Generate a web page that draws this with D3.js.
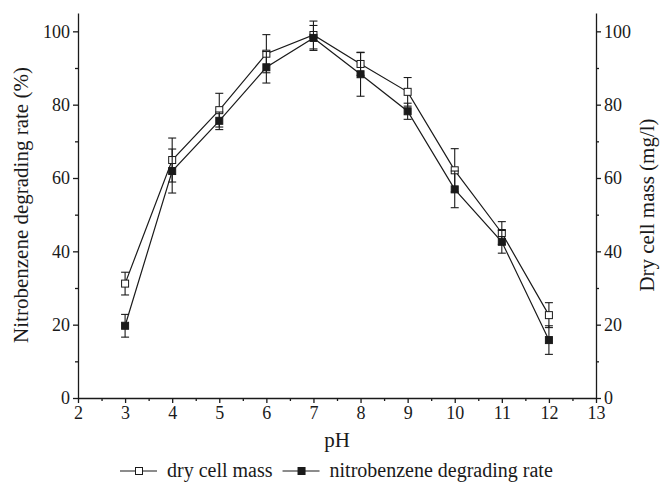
<!DOCTYPE html>
<html>
<head>
<meta charset="utf-8">
<script src="https://cdn.jsdelivr.net/npm/d3@7"></script>
<style>
  body { margin: 0; background: #fff; }
  svg text { font-family: "Liberation Serif", "Times New Roman", serif; }
</style>
</head>
<body>
<div id="chart"></div>
<script>
// pH values on x
const phValues = [3, 4, 5, 6, 7, 8, 9, 10, 11, 12];
// dry cell mass (mg/l), open squares, right axis
const dryMass = [31.2, 64.9, 78.5, 93.9, 99.0, 91.1, 83.5, 62.1, 45.0, 22.6];
const dryMassErr = [3.1, 6.0, 4.6, 5.2, 3.8, 3.1, 3.9, 5.9, 3.1, 3.4];
// nitrobenzene degrading rate (%), filled squares, left axis
const degRate = [19.7, 61.9, 75.6, 90.2, 98.2, 88.3, 78.2, 56.9, 42.6, 15.8];
const degRateErr = [3.1, 6.0, 2.4, 4.3, 3.4, 6.0, 2.2, 5.0, 3.1, 3.9];

const xTicks = d3.range(2, 14);
const yTicks = [0, 20, 40, 60, 80, 100];

const width = 662, height = 482;
const margin = {left: 78, right: 66, top: 13, bottom: 84};

const svg = d3.select("#chart").append("svg")
  .attr("width", width).attr("height", height);

const x = d3.scaleLinear().domain([2, 13]).range([margin.left, width - margin.right]);
const yLeft = d3.scaleLinear().domain([0, 105]).range([height - margin.bottom, margin.top]);
const yRight = d3.scaleLinear().domain([0, 105]).range([height - margin.bottom, margin.top]);

const ink = "#1a1a1a";
const serif = "'Liberation Serif', 'Times New Roman', serif";
const bottom = height - margin.bottom;

// axes
function styleAxis(g) {
  g.attr("font-family", serif);
  g.selectAll("path, line").attr("stroke", ink).attr("stroke-width", 1.3);
  g.selectAll("text").attr("fill", ink).style("font-size", "18px").style("font-family", serif);
}

// minor ticks first
svg.append("g").attr("transform", `translate(0,${bottom})`)
  .call(d3.axisBottom(x).tickValues(d3.range(2.5, 13, 1)).tickSize(3).tickFormat(""))
  .call(g => g.select(".domain").remove()).call(styleAxis);
svg.append("g").attr("transform", `translate(${margin.left},0)`)
  .call(d3.axisLeft(yLeft).tickValues(d3.range(10, 105, 20)).tickSize(3).tickFormat(""))
  .call(g => g.select(".domain").remove()).call(styleAxis);
svg.append("g").attr("transform", `translate(${width - margin.right},0)`)
  .call(d3.axisRight(yRight).tickValues(d3.range(10, 105, 20)).tickSize(3).tickFormat(""))
  .call(g => g.select(".domain").remove()).call(styleAxis);

svg.append("g").attr("transform", `translate(0,${bottom})`)
  .call(d3.axisBottom(x).tickValues(xTicks).tickSize(5).tickSizeOuter(0).tickPadding(3))
  .call(styleAxis);
svg.append("g").attr("transform", `translate(${margin.left},0)`)
  .call(d3.axisLeft(yLeft).tickValues(yTicks).tickSize(5).tickSizeOuter(0).tickPadding(3))
  .call(styleAxis);
svg.append("g").attr("transform", `translate(${width - margin.right},0)`)
  .call(d3.axisRight(yRight).tickValues(yTicks).tickSize(5).tickSizeOuter(0).tickPadding(3))
  .call(styleAxis);

// axis titles
const title = sel => sel.style("font-size", "21px").style("font-family", serif).attr("fill", ink);
svg.append("text").attr("x", (x(2) + x(13)) / 2).attr("y", 447)
  .attr("text-anchor", "middle").call(title).text("pH");
svg.append("text")
  .attr("transform", "translate(28,205) rotate(-90)")
  .attr("text-anchor", "middle").call(title)
  .text("Nitrobenzene degrading rate (%)");
svg.append("text")
  .attr("transform", "translate(654,205) rotate(-90)")
  .attr("text-anchor", "middle").call(title)
  .text("Dry cell mass (mg/l)");

const series = [
  {name: "dry cell mass", vals: dryMass, err: dryMassErr, y: yRight, fill: "#fff"},
  {name: "nitrobenzene degrading rate", vals: degRate, err: degRateErr, y: yLeft, fill: ink}
];

const cap = 4, half = 3.5;
series.forEach(s => {
  const g = svg.append("g");
  const pts = phValues.map((p, i) => ({p, v: s.vals[i], e: s.err[i]}));
  // error bars
  g.selectAll("line.eb").data(pts).join("line")
    .attr("x1", d => x(d.p)).attr("x2", d => x(d.p))
    .attr("y1", d => s.y(d.v - d.e)).attr("y2", d => s.y(d.v + d.e))
    .attr("stroke", ink).attr("stroke-width", 1.1);
  [-1, 1].forEach(sign => {
    g.selectAll(null).data(pts).join("line")
      .attr("x1", d => x(d.p) - cap).attr("x2", d => x(d.p) + cap)
      .attr("y1", d => s.y(d.v + sign * d.e)).attr("y2", d => s.y(d.v + sign * d.e))
      .attr("stroke", ink).attr("stroke-width", 1.1);
  });
  s.g = g; s.pts = pts;
});

series.forEach(s => {
  s.g.append("path").datum(s.pts)
    .attr("d", d3.line().x(d => x(d.p)).y(d => s.y(d.v)))
    .attr("fill", "none").attr("stroke", ink).attr("stroke-width", 1.2);
});
series.forEach(s => {
  s.g.selectAll("rect.m").data(s.pts).join("rect")
    .attr("x", d => x(d.p) - half).attr("y", d => s.y(d.v) - half)
    .attr("width", half * 2).attr("height", half * 2)
    .attr("fill", s.fill).attr("stroke", ink).attr("stroke-width", 1);
});

// legend
const legend = svg.append("g").attr("transform", "translate(0,471)");
let lx = 120;
series.forEach(s => {
  legend.append("line").attr("x1", lx).attr("x2", lx + 37).attr("y1", 0).attr("y2", 0)
    .attr("stroke", ink).attr("stroke-width", 1.2);
  legend.append("rect").attr("x", lx + 19 - half).attr("y", -half)
    .attr("width", half * 2).attr("height", half * 2)
    .attr("fill", s.fill).attr("stroke", ink).attr("stroke-width", 1);
  const t = legend.append("text").attr("x", lx + 47).attr("y", 6)
    .style("font-size", "20px").style("font-family", serif).attr("fill", ink).text(s.name);
  lx += 47 + t.node().getComputedTextLength() + 10;
});
</script>
</body>
</html>
